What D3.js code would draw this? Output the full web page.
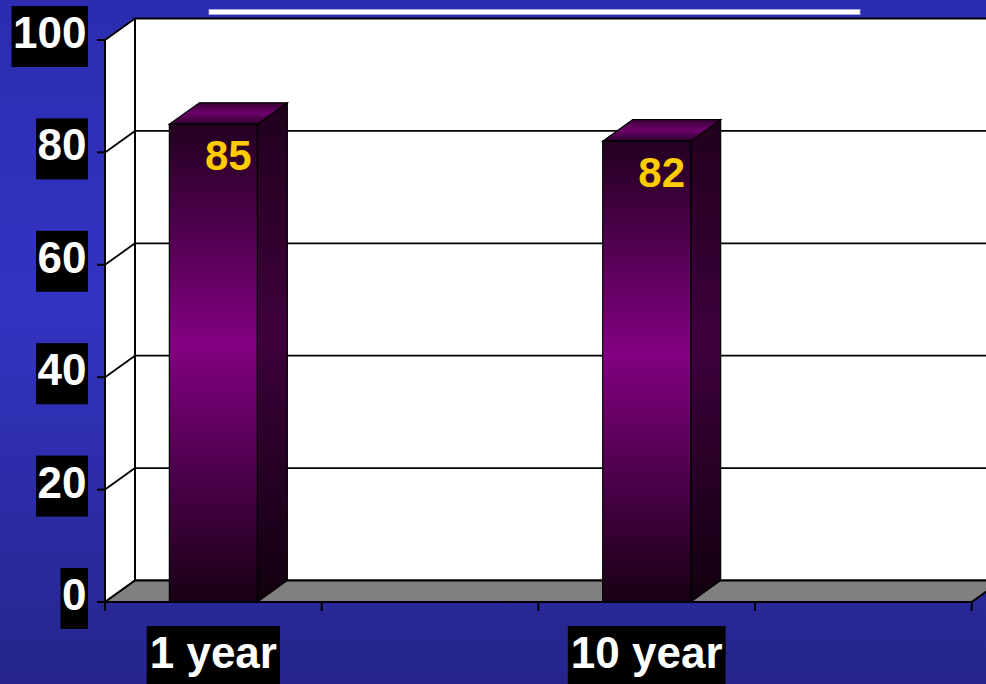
<!DOCTYPE html>
<html>
<head>
<meta charset="utf-8">
<script src="https://cdn.jsdelivr.net/npm/d3@7/dist/d3.min.js"></script>
<style>
  html, body { margin: 0; padding: 0; overflow: hidden; background: #2c2cae; }
  svg { display: block; }
  text { font-family: "Liberation Sans", Arial, sans-serif; font-weight: bold; }
</style>
</head>
<body>
<svg id="chart" width="986" height="684"></svg>
<script>
// Survival at follow-up (percent); empty slots keep the category spacing
const categories = ["1 year", "", "10 year", ""];
const values = [85, null, 82, null];
const yTicks = [0, 20, 40, 60, 80, 100];

const W = 986, H = 684;
const svg = d3.select("#chart");
const defs = svg.append("defs");

// Depth offset of the 3D box
const DX = 30, DY = -21.5;

const x = d3.scaleBand()
  .domain(d3.range(categories.length))
  .range([105, 971.7])
  .paddingInner(0).paddingOuter(0);

const y = d3.scaleLinear().domain([0, 100]).range([602, 40]);

const barW = x.bandwidth() * 0.406;

// Backdrop
const bg = defs.append("linearGradient").attr("id", "bg")
  .attr("x1", 0).attr("y1", 0).attr("x2", 0).attr("y2", 1);
bg.append("stop").attr("offset", 0).attr("stop-color", "#2c2cb0");
bg.append("stop").attr("offset", 0.45).attr("stop-color", "#3333c2");
bg.append("stop").attr("offset", 1).attr("stop-color", "#25258c");
svg.append("rect").attr("width", W).attr("height", H).attr("fill", "url(#bg)");

// Title underline
svg.append("rect").attr("x", 209).attr("y", 9.5).attr("width", 651).attr("height", 5)
  .attr("fill", "#ffffff").attr("stroke", "#b4b4e6").attr("stroke-width", 0.8);

// Bar gradients
function vGrad(id, stops) {
  const g = defs.append("linearGradient").attr("id", id)
    .attr("x1", 0).attr("y1", 0).attr("x2", 0).attr("y2", 1);
  stops.forEach(([o, c]) => g.append("stop").attr("offset", o).attr("stop-color", c));
}
vGrad("frontGrad", [[0, "#22001f"], [0.46, "#820082"], [1, "#180014"]]);
vGrad("sideGrad", [[0, "#20001c"], [0.46, "#3e003c"], [1, "#10000e"]]);
vGrad("topGrad", [[0, "#3a0036"], [0.5, "#6e006c"], [1, "#2a0028"]]);

const x0 = x.range()[0], x1 = x.range()[1];
const yTop = y(100), yZero = y(0);

// Back wall
svg.append("rect")
  .attr("x", x0 + DX).attr("y", yTop + DY)
  .attr("width", x1 - x0).attr("height", yZero - yTop)
  .attr("fill", "#ffffff").attr("stroke", "#000").attr("stroke-width", 2);

// Left wall
svg.append("path")
  .attr("d", `M${x0},${yTop} L${x0 + DX},${yTop + DY} L${x0 + DX},${yZero + DY} L${x0},${yZero} Z`)
  .attr("fill", "#ffffff").attr("stroke", "#000").attr("stroke-width", 2)
  .attr("stroke-linejoin", "round");

// Gridlines on back and left walls
const grid = svg.append("g").attr("stroke", "#000").attr("stroke-width", 1.8).attr("fill", "none");
yTicks.filter(v => v > 0 && v < 100).forEach(v => {
  grid.append("line")
    .attr("x1", x0 + DX).attr("x2", x1 + DX)
    .attr("y1", y(v) + DY).attr("y2", y(v) + DY);
  grid.append("line")
    .attr("x1", x0).attr("x2", x0 + DX)
    .attr("y1", y(v)).attr("y2", y(v) + DY);
});

// Floor
svg.append("path")
  .attr("d", `M${x0},${yZero} L${x0 + DX},${yZero + DY} L${x1 + DX},${yZero + DY} L${x1},${yZero} Z`)
  .attr("fill", "#808080").attr("stroke", "#000").attr("stroke-width", 2)
  .attr("stroke-linejoin", "round");

// Bars
const data = categories.map((c, i) => ({ i, c, v: values[i] })).filter(d => d.v != null);
const bars = svg.append("g").selectAll("g").data(data).join("g");
const bx = d => x(d.i) + (x.bandwidth() - barW) / 2;

bars.append("path") // right face
  .attr("d", d => {
    const r = bx(d) + barW, t = y(d.v);
    return `M${r},${t} L${r + DX},${t + DY} L${r + DX},${yZero + DY} L${r},${yZero} Z`;
  })
  .attr("fill", "url(#sideGrad)").attr("stroke", "#000").attr("stroke-width", 1.2);

bars.append("path") // top face
  .attr("d", d => {
    const l = bx(d), r = l + barW, t = y(d.v);
    return `M${l},${t} L${l + DX},${t + DY} L${r + DX},${t + DY} L${r},${t} Z`;
  })
  .attr("fill", "url(#topGrad)").attr("stroke", "#000").attr("stroke-width", 1.2);

bars.append("rect") // front face
  .attr("x", bx).attr("y", d => y(d.v))
  .attr("width", barW).attr("height", d => yZero - y(d.v))
  .attr("fill", "url(#frontGrad)").attr("stroke", "#000").attr("stroke-width", 1.2);

// Value labels
bars.append("text")
  .attr("x", d => bx(d) + (barW + DX) / 2)
  .attr("y", d => y(d.v) + 46)
  .attr("text-anchor", "middle")
  .attr("font-size", 42)
  .attr("fill", "#ffcc00")
  .text(d => d.v);

// Front axis line and ticks
const axis = svg.append("g").attr("stroke", "#000").attr("stroke-width", 2);
axis.append("line").attr("x1", x0).attr("x2", x1).attr("y1", yZero).attr("y2", yZero);
axis.append("line").attr("x1", x0).attr("x2", x0).attr("y1", yTop).attr("y2", yZero);
d3.range(categories.length + 1).forEach(k => {
  const tx = x0 + k * x.step();
  axis.append("line").attr("x1", tx).attr("x2", tx).attr("y1", yZero).attr("y2", yZero + 9);
});
yTicks.forEach(v => {
  axis.append("line").attr("x1", x0 - 8).attr("x2", x0).attr("y1", y(v)).attr("y2", y(v));
});

// Y tick labels on black tags
const yLab = svg.append("g");
yTicks.forEach(v => {
  const g = yLab.append("g");
  const box = g.append("rect").attr("fill", "#000");
  const t = g.append("text")
    .attr("x", 86.5).attr("y", y(v) + 8)
    .attr("text-anchor", "end").attr("font-size", 44).attr("fill", "#ffffff")
    .text(v);
  const w = t.node().getComputedTextLength();
  box.attr("x", 88 - w - 3).attr("y", y(v) - 34).attr("width", w + 3).attr("height", 61);
});

// X category labels on black tags
const xLab = svg.append("g");
categories.forEach((c, i) => {
  if (!c) return;
  const cx = x(i) + x.bandwidth() / 2;
  const g = xLab.append("g");
  const box = g.append("rect").attr("fill", "#000");
  const t = g.append("text")
    .attr("x", cx).attr("y", 668)
    .attr("text-anchor", "middle").attr("font-size", 44).attr("fill", "#ffffff")
    .text(c);
  const w = t.node().getComputedTextLength();
  box.attr("x", cx - w / 2 - 3).attr("y", 626).attr("width", w + 6).attr("height", 62);
});
</script>
</body>
</html>
